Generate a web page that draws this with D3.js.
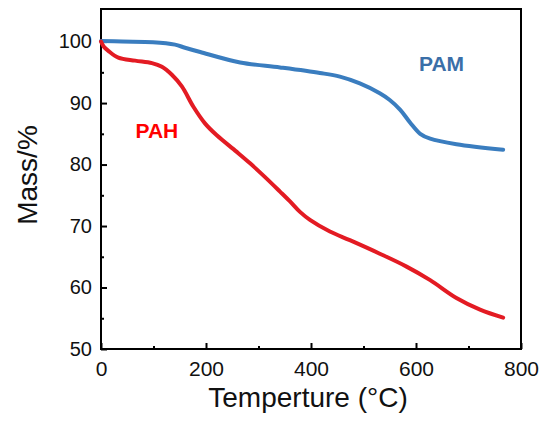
<!DOCTYPE html>
<html>
<head>
<meta charset="utf-8">
<script src="https://cdn.jsdelivr.net/npm/d3@7"></script>
<style>
  html, body { margin: 0; padding: 0; background: #fff; }
  svg { display: block; }
  text { font-family: Arial, "Liberation Sans", sans-serif; }
</style>
</head>
<body>
<svg id="chart" width="541" height="421"></svg>
<script>
// ---- data ----
const pamTemp = [0, 40, 99, 141, 160, 189, 265, 341, 417, 455, 493, 531, 550, 570, 589, 608, 627, 677, 766];
const pamMass = [100.1, 100.0, 99.9, 99.5, 99.0, 98.3, 96.6, 95.8, 94.9, 94.3, 93.2, 91.6, 90.5, 88.9, 86.8, 85.0, 84.2, 83.3, 82.4];

const pahTemp = [0, 5, 14, 33, 65, 97, 116, 135, 154, 176, 198, 220, 258, 284, 312, 341, 360, 379, 398, 436, 474, 531, 582, 627, 677, 722, 766];
const pahMass = [100.0, 99.2, 98.5, 97.4, 96.9, 96.5, 95.9, 94.6, 92.7, 89.4, 86.7, 84.8, 82.1, 80.2, 78.0, 75.6, 74.0, 72.3, 71.0, 69.1, 67.7, 65.5, 63.4, 61.2, 58.3, 56.4, 55.1];

const xMajorTicks = [0, 200, 400, 600, 800];
const xMinorTicks = [100, 300, 500, 700];
const yMajorTicks = [50, 60, 70, 80, 90, 100];
const yMinorTicks = [55, 65, 75, 85, 95];

const seriesNames = ["PAM", "PAH"];

(function () {
// ---- layout ----
const svg = d3.select("#chart");
const mLeft = 101, mRight = 521, mTop = 9, mBottom = 349;

const x = d3.scaleLinear().domain([0, 800]).range([mLeft, mRight]);
const y = d3.scaleLinear().domain([50, 105.3]).range([mBottom, mTop]);

// frame (top & right)
svg.append("path")
  .attr("d", `M${mLeft},${mTop}H${mRight}V${mBottom}`)
  .attr("fill", "none").attr("stroke", "#000").attr("stroke-width", 2);

// minor ticks
const gxMinor = svg.append("g").attr("transform", `translate(0,${mBottom})`)
  .call(d3.axisBottom(x).tickValues(xMinorTicks).tickSize(-3).tickFormat(""));
gxMinor.select(".domain").remove();
const gyMinor = svg.append("g").attr("transform", `translate(${mLeft},0)`)
  .call(d3.axisLeft(y).tickValues(yMinorTicks).tickSize(-3).tickFormat(""));
gyMinor.select(".domain").remove();

// major axes
const gx = svg.append("g").attr("transform", `translate(0,${mBottom})`)
  .call(d3.axisBottom(x).tickValues(xMajorTicks).tickSize(-6).tickPadding(12).tickSizeOuter(0).tickFormat(d3.format("d")));
const gy = svg.append("g").attr("transform", `translate(${mLeft},0)`)
  .call(d3.axisLeft(y).tickValues(yMajorTicks).tickSize(-6).tickPadding(9).tickSizeOuter(0).tickFormat(d3.format("d")));

[gx, gy, gxMinor, gyMinor].forEach(g => {
  g.selectAll("line").attr("stroke", "#000").attr("stroke-width", 2);
  g.selectAll(".domain").attr("stroke", "#000").attr("stroke-width", 2);
});
gx.select(".domain").attr("d", `M${mLeft - 1},0H${mRight + 1}`);
gy.select(".domain").attr("d", `M0,${mTop - 1}V${mBottom + 1}`);

gx.selectAll("text").attr("font-size", 21).attr("fill", "#111").attr("font-family", "Arial, 'Liberation Sans', sans-serif");
gy.selectAll("text").attr("font-size", 20).attr("fill", "#111").attr("font-family", "Arial, 'Liberation Sans', sans-serif");

// curves
const line = d3.line().x(d => x(d[0])).y(d => y(d[1])).curve(d3.curveCatmullRom.alpha(0.5));

svg.append("path")
  .datum(pamTemp.map((t, i) => [t, pamMass[i]]))
  .attr("d", line).attr("fill", "none")
  .attr("stroke", "#3a7dbf").attr("stroke-width", 4).attr("stroke-linecap", "round");

svg.append("path")
  .datum(pahTemp.map((t, i) => [t, pahMass[i]]))
  .attr("d", line).attr("fill", "none")
  .attr("stroke", "#e31b23").attr("stroke-width", 4).attr("stroke-linecap", "round");

// series labels
svg.append("text").attr("x", 419).attr("y", 70.5)
  .attr("font-size", 21).attr("font-weight", "bold").attr("fill", "#3a6fa8")
  .text(seriesNames[0]);
svg.append("text").attr("x", 135.5).attr("y", 137.5)
  .attr("font-size", 21).attr("font-weight", "bold").attr("fill", "#ff0000")
  .text(seriesNames[1]);

// axis titles
svg.append("text").attr("x", 308).attr("y", 407)
  .attr("text-anchor", "middle").attr("font-size", 28).attr("fill", "#111")
  .text("Temperture (°C)");
svg.append("text")
  .attr("transform", "translate(37,175) rotate(-90)")
  .attr("text-anchor", "middle").attr("font-size", 28).attr("fill", "#111")
  .text("Mass/%");
})();
</script>
</body>
</html>
